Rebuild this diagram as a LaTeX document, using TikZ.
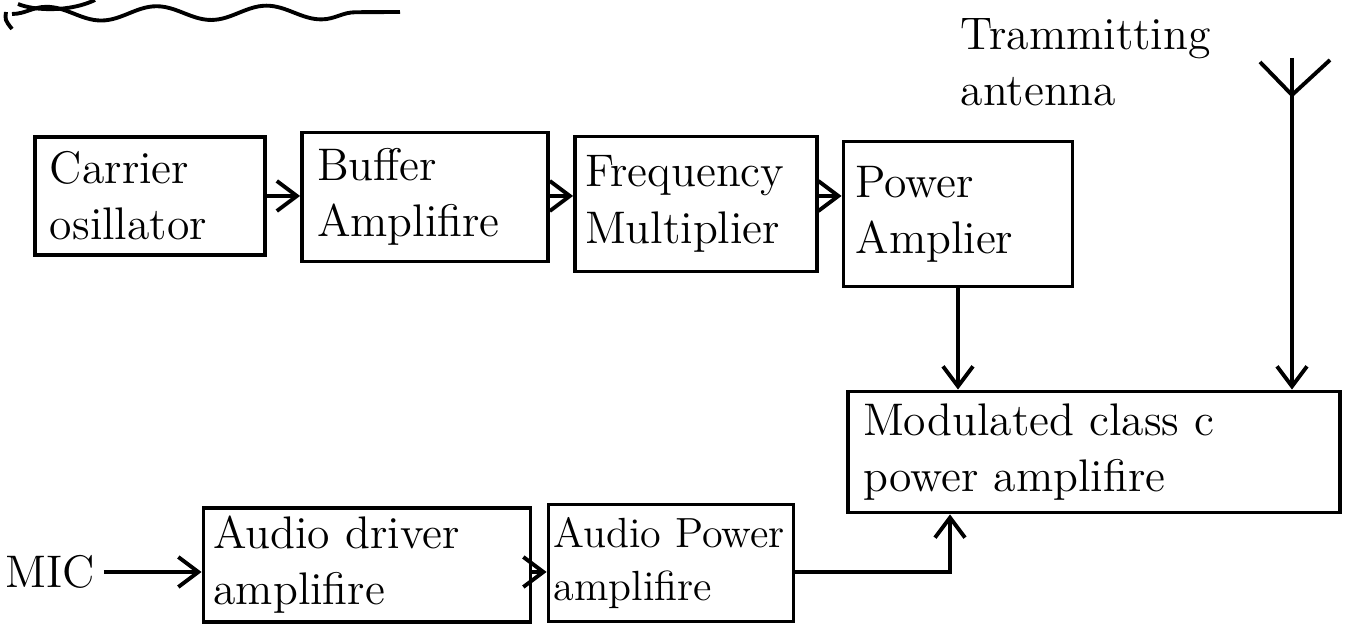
\documentclass[tikz,border=0pt]{standalone}
\usepackage{tikz}
\usetikzlibrary{
	arrows.meta,
	positioning,
	decorations.pathmorphing
}

\begin{document}
\begin{tikzpicture}[
				block/.style={draw, line width=1.1pt, align=left, inner sep=0pt, font=\fontsize{13}{16}\selectfont},
				wire/.style={line width=1.1pt},
				feed/.style={wire, -{Straight Barb[length=2mm, width=3mm]}},
				label/.style={align=left, inner sep=0pt, font=\fontsize{13}{16}\selectfont}
			]
				\useasboundingbox (0,0) rectangle (13.48,6.24);

				% 标题下划线
				\draw[wire, decorate, decoration={snake, amplitude=0.7mm, segment length=11mm}]
					(0.12,6.10) -- (4.00,6.12);
				\draw[wire] (0.06,6.12) .. controls (0.05,6.04) .. (0.12,5.95);
				\draw[wire] (0.95,6.24) .. controls (0.70,6.12) and (0.35,6.13) .. (0.18,6.20);

				% 载波通路
				\node[block, minimum width=2.30cm, minimum height=1.18cm, text width=2.00cm] (carrier) at (1.50,4.28) {Carrier\\osillator};
				\node[block, minimum width=2.46cm, minimum height=1.29cm, text width=2.16cm] (buffer) at (4.25,4.27) {Buffer\\Amplifire};
				\node[block, minimum width=2.42cm, minimum height=1.35cm, text width=2.22cm] (freq) at (6.96,4.20) {Frequency\\Multiplier};
				\node[block, minimum width=2.29cm, minimum height=1.45cm, text width=2.05cm] (power) at (9.58,4.10) {Power\\Amplier};

				% 调制级
				\node[block, minimum width=4.92cm, minimum height=1.21cm, text width=4.62cm] (mod) at (10.94,1.72) {Modulated class~c\\power amplifire};

				% 音频通路
				\node[label, anchor=west] (mic) at (0.05,0.52) {MIC};
				\node[block, minimum width=3.27cm, minimum height=1.14cm, text width=3.07cm] (driver) at (3.67,0.59) {Audio driver\\amplifire};
				\node[block, minimum width=2.45cm, minimum height=1.17cm, text width=2.35cm, font=\fontsize{12}{15}\selectfont] (apower) at (6.71,0.61) {Audio~Power\\amplifire};

				% 天线
				\coordinate (ant) at (12.92,5.29);
				\coordinate (antL) at (12.60,5.62);
				\coordinate (antR) at (13.30,5.64);
				\coordinate (antT) at (12.92,5.66);
				\coordinate (modin) at (9.50,0);
				\node[label, anchor=north west] (antlabel) at (9.60,6.06) {Trammitting\\antenna};

				% 连线
				\draw[feed] (carrier.east) -- (buffer.west |- carrier.east);
				\draw[feed] (buffer.east |- carrier.east) -- (freq.west |- carrier.east);
				\draw[feed] (freq.east |- carrier.east) -- (power.west |- carrier.east);
				\draw[feed] (power.south) -- (power.south |- mod.north);
				\draw[wire] (antL) -- (ant) -- (antR);
				\draw[wire] (antT) -- (ant);
				\draw[feed] (ant) -- (ant |- mod.north);
				\draw[feed] (mic.east) ++(0.08,0) -- (driver.west |- mic.east);
				\draw[feed] (driver.east |- mic.east) -- (apower.west |- mic.east);
				\draw[feed] (apower.east |- mic.east) -| (modin |- mod.south);
			\end{tikzpicture}
\end{document}
